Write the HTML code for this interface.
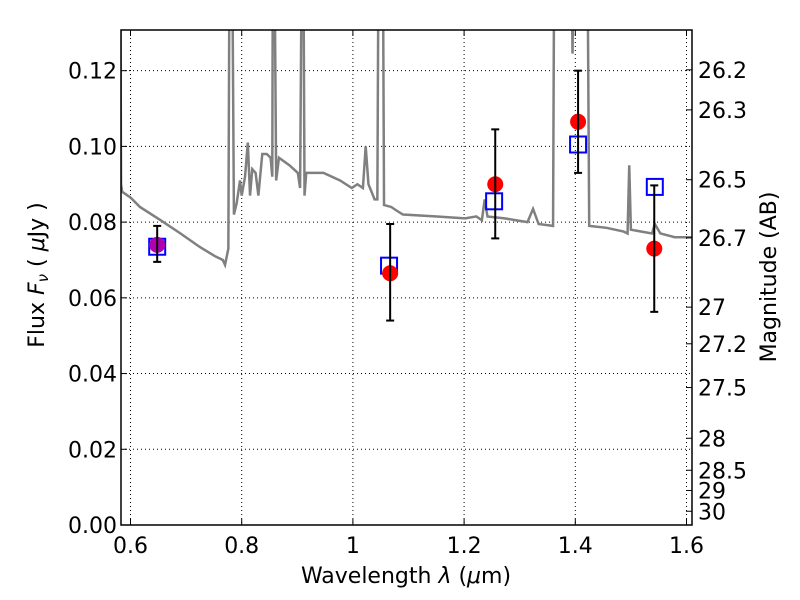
<!DOCTYPE html>
<html><head><meta charset="utf-8"><style>
body{margin:0;background:#fff;}
svg{display:block;font-family:"DejaVu Sans","Liberation Sans",sans-serif;}
</style></head><body>
<svg id="c" width="800" height="600" viewBox="0 0 800 600" xmlns="http://www.w3.org/2000/svg" style="position:absolute;left:0;top:0"></svg>
<script>
const xTicks=[0.6,0.8,1.0,1.2,1.4,1.6];
const xTickLabels=["0.6","0.8","1","1.2","1.4","1.6"];
const yTicks=[0,0.02,0.04,0.06,0.08,0.10,0.12];
const yTickLabels=["0.00","0.02","0.04","0.06","0.08","0.10","0.12"];
const magTicks=[26.2,26.3,26.5,26.7,27,27.2,27.5,28,28.5,29,30];
const magLabels=["26.2","26.3","26.5","26.7","27","27.2","27.5","28","28.5","29","30"];
const obsWave=[0.648,1.067,1.256,1.405,1.542];
const obsFlux=[0.074,0.0665,0.090,0.1065,0.073];
const obsLo=[0.0695,0.054,0.0757,0.093,0.0563];
const obsHi=[0.079,0.0795,0.1045,0.120,0.0897];
const obsColors=["#b000b0","red","red","red","red"];
const modelWave=[0.648,1.065,1.254,1.405,1.543];
const modelFlux=[0.0735,0.0685,0.0855,0.1005,0.0893];
const specWave=[0.5815,0.583,0.585,0.600,0.617,0.653,0.689,0.725,0.752,0.766,0.770,0.776,0.778,0.783,0.786,0.791,0.797,0.800,0.806,0.811,0.815,0.819,0.825,0.830,0.837,0.845,0.852,0.855,0.856,0.859,0.862,0.867,0.886,0.901,0.905,0.908,0.911,0.913,0.916,0.947,0.977,0.998,1.008,1.018,1.023,1.028,1.039,1.044,1.046,1.054,1.056,1.069,1.079,1.090,1.151,1.202,1.222,1.232,1.237,1.242,1.273,1.293,1.314,1.324,1.334,1.360,1.362,1.393,1.395,1.397,1.422,1.425,1.456,1.487,1.494,1.497,1.500,1.538,1.543,1.553,1.579,1.610,1.62];
const specFlux=[0.15,0.09,0.088,0.0865,0.084,0.0806,0.0771,0.0734,0.071,0.070,0.0687,0.073,0.15,0.15,0.082,0.085,0.091,0.087,0.092,0.101,0.087,0.094,0.093,0.087,0.098,0.098,0.097,0.092,0.15,0.15,0.091,0.097,0.095,0.093,0.089,0.15,0.15,0.087,0.093,0.093,0.091,0.089,0.090,0.089,0.100,0.090,0.086,0.086,0.15,0.15,0.0845,0.084,0.083,0.082,0.0815,0.081,0.0815,0.0805,0.086,0.0815,0.081,0.0805,0.080,0.0835,0.0795,0.079,0.15,0.15,0.1245,0.15,0.15,0.079,0.0785,0.0775,0.077,0.095,0.078,0.077,0.0795,0.077,0.076,0.076,0.076];
const L=121,R=692,T=30,B=525;
const X=v=>130.5+(v-0.6)*556;
const Y=v=>525-v*3786;
const magY=m=>Y(Math.pow(10,(23.9-m)/2.5));
const svg=document.getElementById('c');
const NS="http://www.w3.org/2000/svg";
function mk(tag,attrs,parent){const e=document.createElementNS(NS,tag);for(const k in attrs)e.setAttribute(k,attrs[k]);(parent||svg).appendChild(e);return e;}
const defs=mk('defs',{});const cp=mk('clipPath',{id:'pc'},defs);mk('rect',{x:L,y:T,width:R-L,height:B-T},cp);
xTicks.forEach(v=>{const g=mk('line',{x1:X(v),x2:X(v),y1:T,y2:B,stroke:'#000','stroke-dasharray':'1,3','stroke-width':1});

});
yTicks.forEach(v=>{const g=mk('line',{x1:L,x2:R,y1:Y(v),y2:Y(v),stroke:'#000','stroke-dasharray':'1,3','stroke-width':1});

});
const sp=mk('polyline',{points:specWave.map((w,i)=>X(w)+','+Y(specFlux[i])).join(' '),fill:'none',stroke:'#808080','stroke-width':2.5,'clip-path':'url(#pc)'});


modelWave.forEach((w,i)=>{const r=mk('rect',{x:X(w)-8,y:Y(modelFlux[i])-8,width:16,height:16,fill:'none',stroke:'#0000ff','stroke-width':2});

});
obsWave.forEach((w,i)=>{
const c=mk('circle',{cx:X(w),cy:Y(obsFlux[i]),r:8,fill:obsColors[i]});


const g=mk('g',{stroke:'#000','stroke-width':2});


mk('line',{x1:X(w),x2:X(w),y1:Y(obsLo[i]),y2:Y(obsHi[i])},g);
mk('line',{x1:X(w)-4,x2:X(w)+4,y1:Y(obsLo[i]),y2:Y(obsLo[i])},g);
mk('line',{x1:X(w)-4,x2:X(w)+4,y1:Y(obsHi[i]),y2:Y(obsHi[i])},g);
});
const fr=mk('rect',{x:L,y:T,width:R-L,height:B-T,fill:'none',stroke:'#000','stroke-width':1.5});


xTicks.forEach((v,i)=>{mk('line',{x1:X(v),x2:X(v),y1:B,y2:B-6,stroke:'#000'});mk('line',{x1:X(v),x2:X(v),y1:T,y2:T+6,stroke:'#000'});
const t=mk('text',{x:X(v),y:B+28,'text-anchor':'middle','font-size':22});t.textContent=xTickLabels[i];

});
yTicks.forEach((v,i)=>{mk('line',{x1:L,x2:L+6,y1:Y(v),y2:Y(v),stroke:'#000'});
const t=mk('text',{x:L-4,y:Y(v)+8,'text-anchor':'end','font-size':22});t.textContent=yTickLabels[i];

});
magTicks.forEach((m,i)=>{const y=magY(m);mk('line',{x1:R-6,x2:R,y1:y,y2:y,stroke:'#000'});
const t=mk('text',{x:R+6,y:y+8,'font-size':22});t.textContent=magLabels[i];

});
</script>
<svg width="800" height="600" style="position:absolute;left:0;top:0" xmlns="http://www.w3.org/2000/svg" font-family="DejaVu Sans, Liberation Sans, sans-serif">
<text x="406" y="583" text-anchor="middle" font-size="22">Wavelength  <tspan font-style="italic">λ</tspan> (<tspan font-style="italic">μ</tspan>m)</text>
<text transform="translate(44,275) rotate(-90)" text-anchor="middle" font-size="22">Flux  <tspan font-style="italic">F</tspan><tspan font-style="italic" font-size="15" dy="4">ν</tspan><tspan dy="-4">  (  </tspan><tspan font-style="italic">μ</tspan>Jy )</text>
<text transform="translate(776,277) rotate(-90)" text-anchor="middle" font-size="22">Magnitude (AB)</text>
</svg>
</body></html>
